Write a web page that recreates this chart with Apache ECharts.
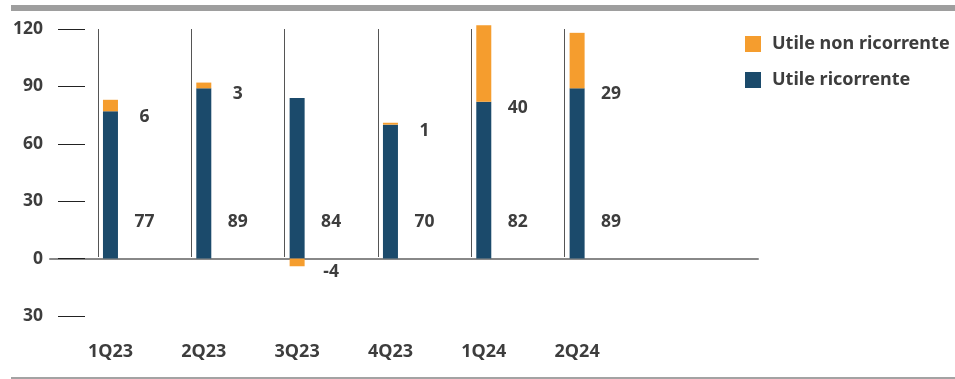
<!DOCTYPE html>
<html>
<head>
<meta charset="utf-8">
<script src="https://cdn.jsdelivr.net/npm/echarts@6/dist/echarts.min.js"></script>
<style>
  html, body { margin: 0; padding: 0; background: #fff; }
  #chart { width: 955px; height: 379px; }
</style>
</head>
<body>
<div id="chart"></div>
<script>
// ---- data ----
const categories = ['1Q23', '2Q23', '3Q23', '4Q23', '1Q24', '2Q24'];
const recurring = [77, 89, 84, 70, 82, 89];          // Utile ricorrente
const nonRecurring = [6, 3, -4, 1, 40, 29];          // Utile non ricorrente
const yTicks = [-30, 0, 30, 60, 90, 120];

// ---- styling ----
const FONT = '"Noto Sans", "DejaVu Sans", sans-serif';
const TEXT = '#3d3d3d';
const BLUE = '#1b4a6b';
const ORANGE = '#f59d2e';
const FS = 17.5;
const Y_MIN = yTicks[0], Y_MAX = yTicks[yTicks.length - 1], Y_STEP = 30;

const chart = echarts.init(document.getElementById('chart'), null, { renderer: 'canvas' });

const gridTop = 29, gridBottom = 63;
const bandW = 93.33;
const n = categories.length;

const option = {
  animation: false,
  backgroundColor: '#ffffff',
  textStyle: { fontFamily: FONT },
  graphic: [
    { type: 'rect', left: 11, top: 5, shape: { width: 944, height: 6 }, style: { fill: '#9e9e9e' } },
    { type: 'rect', left: 11, top: 377, shape: { width: 944, height: 2 }, style: { fill: '#a3a3a3' } }
  ],
  legend: {
    orient: 'vertical',
    left: 745, top: 35, padding: 0,
    itemWidth: 16, itemHeight: 16, itemGap: 18,
    icon: 'rect',
    data: ['Utile non ricorrente', 'Utile ricorrente'],
    textStyle: { fontFamily: FONT, fontSize: 18, fontWeight: 'bold', color: TEXT, padding: [0, 0, 0, 6] }
  },
  grid: [
    // axis frame: y ticks/labels and zero line
    { left: 50, right: 197, top: gridTop, bottom: gridBottom },
    // bars
    { left: 63.8, width: bandW * n, top: gridTop, bottom: gridBottom },
    // separators
    { left: 98, width: bandW * n, top: gridTop, bottom: 122 }
  ],
  xAxis: [
    {
      gridIndex: 0, type: 'category', data: [''],
      axisLine: { show: true, onZero: true, lineStyle: { color: '#888888', width: 2 } },
      axisTick: { show: false }, axisLabel: { show: false }, splitLine: { show: false }
    },
    {
      gridIndex: 1, type: 'category', data: categories, position: 'bottom',
      axisLine: { show: false, onZero: false }, axisTick: { show: false },
      axisLabel: { margin: 27, fontFamily: FONT, fontSize: 18, fontWeight: 'bold', color: TEXT },
      splitLine: { show: false }
    },
    {
      gridIndex: 2, type: 'category', data: categories, boundaryGap: true,
      axisLine: { show: false }, axisTick: { show: false }, axisLabel: { show: false },
      splitLine: { show: true, showMinLine: true, showMaxLine: false, lineStyle: { color: '#555555', width: 1 } }
    }
  ],
  yAxis: [
    {
      gridIndex: 0, type: 'value', min: Y_MIN, max: Y_MAX, interval: Y_STEP, offset: -35,
      axisLine: { show: false },
      axisTick: { show: true, length: 27, lineStyle: { color: '#222222', width: 1 } },
      axisLabel: {
        margin: 42, fontFamily: FONT, fontSize: FS, fontWeight: 'bold', color: TEXT,
        formatter: v => String(Math.abs(v))
      },
      splitLine: { show: false }
    },
    {
      gridIndex: 1, type: 'value', min: Y_MIN, max: Y_MAX, interval: Y_STEP, show: false
    },
    {
      gridIndex: 2, type: 'value', min: 0, max: Y_MAX, interval: Y_STEP, show: false
    }
  ],
  series: [
    {
      name: 'Utile ricorrente', type: 'bar', xAxisIndex: 1, yAxisIndex: 1,
      stack: 'utile', barWidth: 15, clip: false,
      itemStyle: { color: BLUE },
      label: {
        show: true, position: 'insideBottom', offset: [34, -23],
        fontFamily: FONT, fontSize: FS, fontWeight: 'bold', color: TEXT
      },
      data: recurring
    },
    {
      name: 'Utile non ricorrente', type: 'bar', xAxisIndex: 1, yAxisIndex: 1,
      stack: 'utile', barWidth: 15, clip: false,
      itemStyle: { color: ORANGE },
      label: {
        show: true, position: 'insideBottom', offset: [34, 20],
        fontFamily: FONT, fontSize: FS, fontWeight: 'bold', color: TEXT
      },
      data: nonRecurring
    }
  ]
};

chart.setOption(option);
</script>
</body>
</html>
